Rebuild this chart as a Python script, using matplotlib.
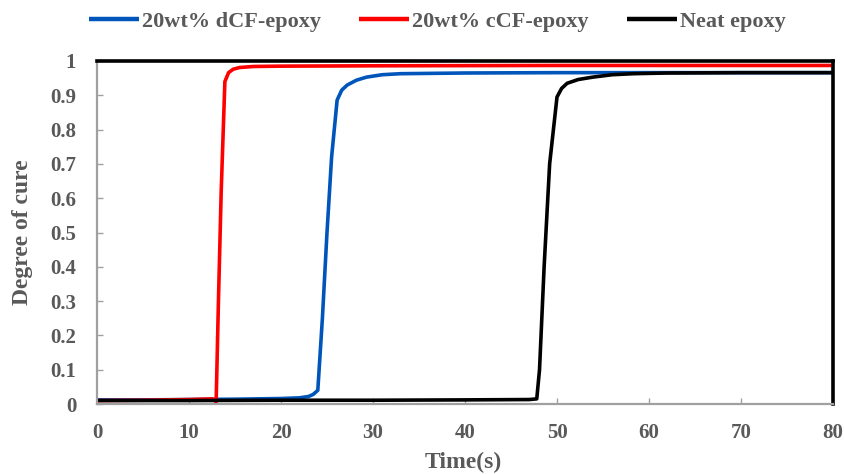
import matplotlib
matplotlib.use("Agg")
import matplotlib.pyplot as plt

# Data
t_dcf = [0, 5, 10, 15, 20, 22, 23, 23.5, 24.0, 24.5, 25.0, 25.5, 26.1, 26.6, 27.2, 28.2, 29.3, 31, 33, 40, 50, 60, 80]
y_dcf = [0.012, 0.012, 0.013, 0.014, 0.016, 0.018, 0.022, 0.028, 0.04, 0.25, 0.50, 0.72, 0.886, 0.915, 0.93, 0.944, 0.953, 0.960, 0.963, 0.965, 0.966, 0.966, 0.966]

t_ccf = [0, 5, 10, 12.5, 12.8, 12.95, 13.2, 13.5, 13.9, 14.3, 14.8, 15.5, 17, 20, 30, 50, 80]
y_ccf = [0.010, 0.011, 0.013, 0.015, 0.012, 0.005, 0.30, 0.62, 0.94, 0.966, 0.976, 0.981, 0.984, 0.985, 0.986, 0.987, 0.987]

t_neat = [0, 10, 20, 30, 40, 47.0, 47.8, 48.1, 48.6, 49.2, 50.0, 50.5, 51.1, 52.3, 53.9, 56, 58.3, 62, 70, 80]
y_neat = [0.010, 0.010, 0.011, 0.011, 0.012, 0.013, 0.015, 0.10, 0.40, 0.70, 0.895, 0.920, 0.935, 0.946, 0.953, 0.960, 0.963, 0.965, 0.966, 0.966]

labels = ["20wt% dCF-epoxy", "20wt% cCF-epoxy", "Neat epoxy"]
colors = ["#0055BB", "#FF0000", "#000000"]

x_ticks = list(range(0, 81, 10))
y_ticks = [0, 0.1, 0.2, 0.3, 0.4, 0.5, 0.6, 0.7, 0.8, 0.9, 1.0]
y_ticklabels = ["0", "0.1", "0.2", "0.3", "0.4", "0.5", "0.6", "0.7", "0.8", "0.9", "1"]

gray = "#595959"
plt.rcParams['font.family'] = ['Liberation Serif', 'DejaVu Serif']

fig = plt.figure(figsize=(8.44, 4.74), dpi=100)
ax = fig.add_axes([97/844, 1 - 404/474, 736/844, 343/474])

for t, y, lab, c in zip([t_dcf, t_ccf, t_neat], [y_dcf, y_ccf, y_neat], labels, colors):
    ax.plot(t, y, color=c, lw=2.6, label=lab, solid_joinstyle='round', solid_capstyle='butt')

ax.set_xlim(0, 80)
ax.set_ylim(0, 1)
ax.set_xticks(x_ticks)
ax.set_yticks(y_ticks)
ax.set_yticklabels(y_ticklabels)

for s in ['left', 'bottom']:
    ax.spines[s].set_color('#A0A0A0')
    ax.spines[s].set_linewidth(1.6)
for s in ['top', 'right']:
    ax.spines[s].set_color('black')
    ax.spines[s].set_linewidth(2.6)

ax.tick_params(direction='in', length=4, width=1, color='#A0A0A0',
               labelsize=15, labelcolor=gray)
ax.tick_params(axis='y', pad=15)
ax.tick_params(axis='x', pad=14)
for lbl in ax.get_xticklabels() + ax.get_yticklabels():
    lbl.set_fontweight('bold')

ax.set_xlabel("Time(s)", fontsize=17, fontweight='bold', color=gray)
ax.set_ylabel("Degree of cure", fontsize=17, fontweight='bold', color=gray)
ax.xaxis.set_label_coords((462 - 97) / 736 * 0 + 0.5 - (465 - 463) / 736, -(462 - 404) / 343, transform=ax.transAxes)
ax.yaxis.set_label_coords(-(97 - 23) / 736, (404 - 232) / 343, transform=ax.transAxes)
ax.xaxis.label.set_va('center')
ax.yaxis.label.set_va('center')

leg = fig.legend(loc='center left', bbox_to_anchor=(89/844, 1 - 22/474),
                 bbox_transform=fig.transFigure, ncol=3, frameon=False,
                 prop={'weight': 'bold', 'size': 16}, handlelength=2.25, handletextpad=0.15,
                 columnspacing=1.7, borderpad=0, borderaxespad=0)
for txt in leg.get_texts():
    txt.set_color(gray)
for h in leg.get_lines():
    h.set_linewidth(3.2)

fig.savefig("out.png", dpi=100)
